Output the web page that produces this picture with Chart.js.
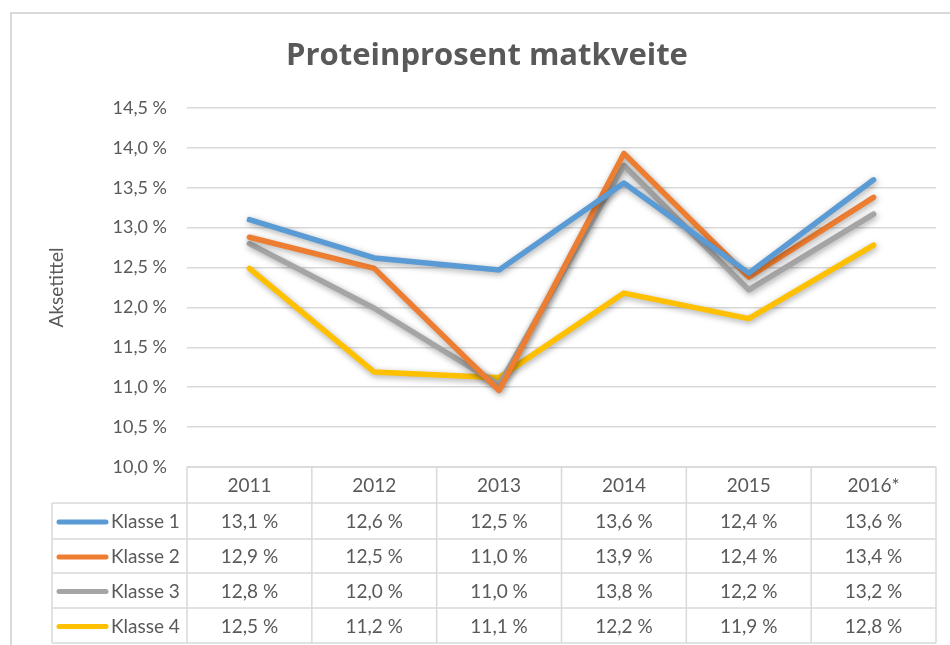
<!DOCTYPE html>
<html>
<head>
<meta charset="utf-8">
<script src="https://cdn.jsdelivr.net/npm/chart.js@4.4.1/dist/chart.umd.min.js"></script>
<style>
  html, body { margin: 0; padding: 0; background: #fff; }
  #wrap { width: 950px; height: 645px; position: relative; }
</style>
</head>
<body>
<div id="wrap"><canvas id="proteinChart" width="950" height="645"></canvas></div>
<script>
// --- Data ---
const years = ['2011', '2012', '2013', '2014', '2015', '2016*'];
const klasse1 = [13.1, 12.62, 12.47, 13.56, 12.43, 13.6];
const klasse2 = [12.88, 12.49, 10.96, 13.93, 12.38, 13.38];
const klasse3 = [12.8, 11.99, 11.03, 13.78, 12.22, 13.17];
const klasse4 = [12.49, 11.19, 11.12, 12.18, 11.86, 12.78];
const yTicks = [10.0, 10.5, 11.0, 11.5, 12.0, 12.5, 13.0, 13.5, 14.0, 14.5];

const FONT = 'Lato, "Open Sans", sans-serif';
const TEXT = '#595959';
const GRID = '#d9d9d9';

const fmt = v => v.toFixed(1).replace('.', ',') + ' %';

// --- Shadow under the lines ---
const shadowPlugin = {
    id: 'lineShadow',
    beforeDatasetDraw(chart) {
        const c = chart.ctx;
        c.save();
        c.shadowColor = 'rgba(0,0,0,0.35)';
        c.shadowBlur = 6;
        c.shadowOffsetX = 1;
        c.shadowOffsetY = 2;
    },
    afterDatasetDraw(chart) {
        chart.ctx.restore();
    }
};

// --- Frame, title, axis title and data table ---
const decorPlugin = {
    id: 'decor',
    beforeDraw(chart) {
        const c = chart.ctx;
        c.save();
        c.strokeStyle = GRID;
        c.lineWidth = 2;
        c.beginPath();
        c.moveTo(11, 660);
        c.lineTo(11, 13);
        c.lineTo(960, 13);
        c.stroke();
        c.restore();
    },
    afterDraw(chart) {
        const c = chart.ctx;
        const x = chart.scales.x;
        const area = chart.chartArea;
        c.save();

        // title
        c.fillStyle = TEXT;
        c.font = 'bold 31px "Open Sans", sans-serif';
        c.textAlign = 'center';
        c.textBaseline = 'middle';
        c.fillText('Proteinprosent matkveite', 487, 56);

        // axis title
        c.font = '19px ' + FONT;
        c.translate(57, (area.top + area.bottom) / 2);
        c.rotate(-Math.PI / 2);
        c.fillText('Aksetittel', 0, 0);
        c.setTransform(1, 0, 0, 1, 0, 0);

        // table grid
        const rowTops = [area.bottom, 503, 539, 573, 608, 643];
        const tableLeft = 52;
        const half = (x.getPixelForValue(1) - x.getPixelForValue(0)) / 2;
        const colEdges = years.map((y, i) => x.getPixelForValue(i) - half);
        colEdges.push(x.getPixelForValue(years.length - 1) + half);

        c.strokeStyle = GRID;
        c.lineWidth = 1.5;
        c.beginPath();
        c.moveTo(area.left, rowTops[0]); c.lineTo(area.right, rowTops[0]);
        for (let r = 1; r < rowTops.length; r++) {
            c.moveTo(tableLeft, rowTops[r]); c.lineTo(area.right, rowTops[r]);
        }
        c.moveTo(tableLeft, rowTops[1]); c.lineTo(tableLeft, rowTops[5]);
        colEdges.forEach(px => { c.moveTo(px, rowTops[0]); c.lineTo(px, rowTops[5]); });
        c.stroke();

        // header
        c.fillStyle = TEXT;
        c.font = '19px ' + FONT;
        c.textAlign = 'center';
        years.forEach((y, i) => c.fillText(y, x.getPixelForValue(i), (rowTops[0] + rowTops[1]) / 2 + 1));

        // rows
        chart.data.datasets.forEach((ds, r) => {
            const cy = (rowTops[r + 1] + rowTops[r + 2]) / 2 + 1;
            c.strokeStyle = ds.borderColor;
            c.lineWidth = 5;
            c.lineCap = 'round';
            c.beginPath();
            c.moveTo(59, cy); c.lineTo(106, cy);
            c.stroke();
            c.fillStyle = TEXT;
            c.textAlign = 'left';
            c.fillText(ds.label, 111, cy);
            c.textAlign = 'center';
            ds.data.forEach((v, i) => c.fillText(fmt(v), x.getPixelForValue(i), cy));
        });
        c.restore();
    }
};

const series = [
    { label: 'Klasse 1', data: klasse1, color: '#5B9BD5' },
    { label: 'Klasse 2', data: klasse2, color: '#ED7D31' },
    { label: 'Klasse 3', data: klasse3, color: '#A5A5A5' },
    { label: 'Klasse 4', data: klasse4, color: '#FFC000' }
];

const ctx = document.getElementById('proteinChart').getContext('2d');
new Chart(ctx, {
    type: 'line',
    data: {
        labels: years,
        datasets: series.map(s => ({
            label: s.label,
            data: s.data,
            borderColor: s.color,
            backgroundColor: s.color,
            borderWidth: 5.5,
            pointRadius: 0,
            tension: 0,
            borderCapStyle: 'round',
            borderJoinStyle: 'round'
        }))
    },
    options: {
        responsive: false,
        animation: false,
        layout: { padding: { left: 0, right: 14, top: 108, bottom: 178 } },
        plugins: {
            legend: { display: false },
            title: { display: false },
            tooltip: { enabled: false }
        },
        scales: {
            x: {
                offset: true,
                grid: { display: false },
                border: { display: false },
                ticks: { display: false },
                afterFit: s => { s.height = 0; }
            },
            y: {
                min: yTicks[0],
                max: yTicks[yTicks.length - 1],
                afterBuildTicks: s => { s.ticks = yTicks.map(v => ({ value: v })); },
                afterFit: s => { s.width = 187; },
                grid: { color: GRID, lineWidth: 1.5, drawTicks: false },
                border: { display: false },
                ticks: {
                    padding: 20,
                    color: TEXT,
                    font: { family: FONT, size: 18 },
                    callback: v => fmt(v)
                }
            }
        }
    },
    plugins: [shadowPlugin, decorPlugin]
});
</script>
</body>
</html>
